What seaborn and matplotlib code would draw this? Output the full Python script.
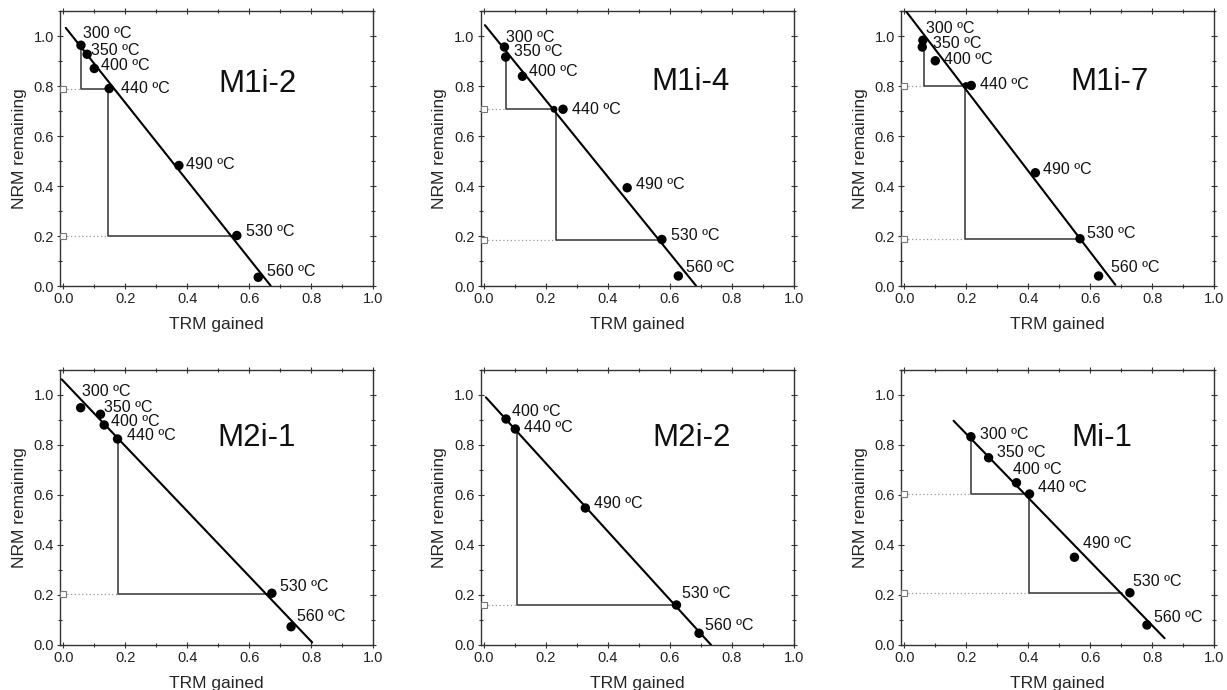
import matplotlib
matplotlib.use("Agg")
import pandas as pd
import matplotlib.pyplot as plt
import seaborn as sns
from matplotlib.ticker import MultipleLocator

# sample names
names = ["M1i-2", "M1i-4", "M1i-7", "M2i-1", "M2i-2", "Mi-1"]

# heating steps (ºC), TRM gained and NRM remaining for each sample
m1i2_temp = [300, 350, 400, 440, 490, 530, 560]
m1i2_trm = [0.057, 0.077, 0.100, 0.148, 0.373, 0.560, 0.629]
m1i2_nrm = [0.963, 0.927, 0.870, 0.790, 0.482, 0.202, 0.035]

m1i4_temp = [300, 350, 400, 440, 490, 530, 560]
m1i4_trm = [0.066, 0.070, 0.124, 0.255, 0.462, 0.574, 0.627]
m1i4_nrm = [0.956, 0.916, 0.839, 0.707, 0.393, 0.186, 0.040]

m1i7_temp = [300, 350, 400, 440, 490, 530, 560]
m1i7_trm = [0.060, 0.058, 0.100, 0.216, 0.423, 0.567, 0.627]
m1i7_nrm = [0.983, 0.956, 0.901, 0.802, 0.453, 0.189, 0.040]

m2i1_temp = [300, 350, 400, 440, 530, 560]
m2i1_trm = [0.056, 0.120, 0.132, 0.175, 0.673, 0.735]
m2i1_nrm = [0.949, 0.923, 0.880, 0.824, 0.207, 0.073]

m2i2_temp = [400, 440, 490, 530, 560]
m2i2_trm = [0.071, 0.101, 0.327, 0.621, 0.694]
m2i2_nrm = [0.904, 0.864, 0.548, 0.160, 0.047]

mi1_temp = [300, 350, 400, 440, 490, 530, 560]
mi1_trm = [0.215, 0.272, 0.362, 0.404, 0.549, 0.728, 0.783]
mi1_nrm = [0.833, 0.749, 0.649, 0.604, 0.351, 0.209, 0.080]

# best-fit lines: x start, x end, intercept, slope
m1i2_fit = [0.008, 0.669, 1.045, -1.56]
m1i4_fit = [0.003, 0.684, 1.048, -1.53]
m1i7_fit = [0.005, 0.681, 1.108, -1.62]
m2i1_fit = [-0.005, 0.803, 1.056, -1.302]
m2i2_fit = [0.006, 0.733, 0.999, -1.363]
mi1_fit = [0.159, 0.840, 1.100, -1.2775]

# pTRM checks: x of start step, NRM of start step, NRM of check, TRM of check
m1i2_checks = [[0.057, 0.963, 0.787, 0.148], [0.143, 0.787, 0.202, 0.560]]
m1i4_checks = [[0.070, 0.916, 0.707, 0.226], [0.231, 0.707, 0.186, 0.574]]
m1i7_checks = [[0.065, 0.960, 0.802, 0.199], [0.196, 0.802, 0.189, 0.567]]
m2i1_checks = [[0.175, 0.824, 0.204, 0.660]]
m2i2_checks = [[0.107, 0.864, 0.160, 0.621]]
mi1_checks = [[0.215, 0.833, 0.604, 0.404], [0.404, 0.604, 0.209, 0.702]]

# small check points visible off the main points
m1i4_extra = [[0.226], [0.707]]
m1i7_extra = [[0.199], [0.802]]

panels = [
    (m1i2_temp, m1i2_trm, m1i2_nrm, m1i2_fit, m1i2_checks, None),
    (m1i4_temp, m1i4_trm, m1i4_nrm, m1i4_fit, m1i4_checks, m1i4_extra),
    (m1i7_temp, m1i7_trm, m1i7_nrm, m1i7_fit, m1i7_checks, m1i7_extra),
    (m2i1_temp, m2i1_trm, m2i1_nrm, m2i1_fit, m2i1_checks, None),
    (m2i2_temp, m2i2_trm, m2i2_nrm, m2i2_fit, m2i2_checks, None),
    (mi1_temp, mi1_trm, mi1_nrm, mi1_fit, mi1_checks, None),
]

# label offsets in pixels (dx, dy) for each point label
label_offsets = [
    [(2, 12), (4, 4), (7, 3), (12, 0), (7, 1), (9, 4), (9, 6)],
    [(2, 10), (8, 5), (7, 5), (9, 0), (9, 3), (9, 4), (8, 8)],
    [(3, 12), (11, 3), (9, 1), (9, 1), (8, 3), (7, 5), (12, 8)],
    [(1, 16), (4, 7), (7, 3), (9, 4), (8, 7), (6, 10)],
    [(6, 8), (9, 1), (9, 4), (6, 11), (6, 8)],
    [(9, 2), (8, 5), (-3, 13), (9, 7), (9, 14), (3, 11), (7, 7)],
]
title_pos = [(0.628, 0.81), (0.667, 0.816), (0.661, 0.816),
             (0.624, 0.827), (0.671, 0.827), (0.638, 0.827)]

sns.set_theme(style="ticks")
plt.rcParams['font.family'] = ['Liberation Sans', 'DejaVu Sans']

W, H = 1227, 690
fig = plt.figure(figsize=(W / 100, H / 100), dpi=100)
col_left = [60.2, 480.9, 901.2]
row_bottom = [286, 645]

for i, (temp, trm, nrm, fit, checks, extra) in enumerate(panels):
    r, c = divmod(i, 3)
    ax = fig.add_axes([col_left[c] / W, (H - row_bottom[r]) / H, 313 / W, 275 / H])

    df = pd.DataFrame({'TRM': trm, 'NRM': nrm, 'T': temp})

    # fitted line
    fx = [fit[0], fit[1]]
    fy = [fit[2] + fit[3] * x for x in fx]
    sns.lineplot(x=fx, y=fy, ax=ax, color='black', lw=1.5, zorder=3)

    # pTRM checks
    for xa, ya, yc, xc in checks:
        ax.plot([0.0, xa], [yc, yc], color='#9a9a9a', lw=0.9, ls=(0, (1, 2)), zorder=1)
        ax.plot([xa, xa, xc], [ya, yc, yc], color='#333333', lw=1.1, zorder=2)
        ax.plot([0.0], [yc], marker='s', ms=4, mfc='white', mec='#777777', mew=0.8,
                clip_on=False, zorder=4)

    if extra is not None:
        sns.scatterplot(x=extra[0], y=extra[1], ax=ax, color='black', s=24,
                        edgecolor='none', zorder=4)

    sns.scatterplot(data=df, x='TRM', y='NRM', ax=ax, color='black', s=46,
                    edgecolor='none', zorder=5)

    for (t, x, y), (dx, dy) in zip(zip(temp, trm, nrm), label_offsets[i]):
        ax.annotate(f"{t} ºC", (x, y), xytext=(dx, dy), textcoords='offset pixels',
                    ha='left', va='center', fontsize=11.5, color='#111111')

    ax.text(title_pos[i][0], title_pos[i][1], names[i], fontsize=22.5,
            ha='center', va='center', color='#111111')

    ax.set_xlim(-0.01, 1.0)
    ax.set_ylim(0, 1.1)
    ax.xaxis.set_minor_locator(MultipleLocator(0.1))
    ax.yaxis.set_minor_locator(MultipleLocator(0.1))
    ax.set_xticks([0, 0.2, 0.4, 0.6, 0.8, 1.0])
    ax.set_xticklabels(['0.0', '0.2', '0.4', '0.6', '0.8', '1.0'])
    ax.set_yticks([0, 0.2, 0.4, 0.6, 0.8, 1.0])
    ax.set_yticklabels(['0.0', '0.2', '0.4', '0.6', '0.8', '1.0'])
    ax.tick_params(which='both', direction='inout', top=True, right=True,
                   labelsize=10.5, colors='#333333', labelcolor='#222222', width=0.8)
    ax.tick_params(which='major', length=5, pad=2)
    ax.tick_params(which='minor', length=3)
    for s in ax.spines.values():
        s.set_linewidth(1.0)
        s.set_color('#333333')
    ax.set_xlabel('TRM gained', fontsize=12.5, labelpad=8)
    ax.set_ylabel('NRM remaining', fontsize=12.5, labelpad=5)
    ax.set_facecolor('white')

fig.savefig('out.png', dpi=100, facecolor='white')
